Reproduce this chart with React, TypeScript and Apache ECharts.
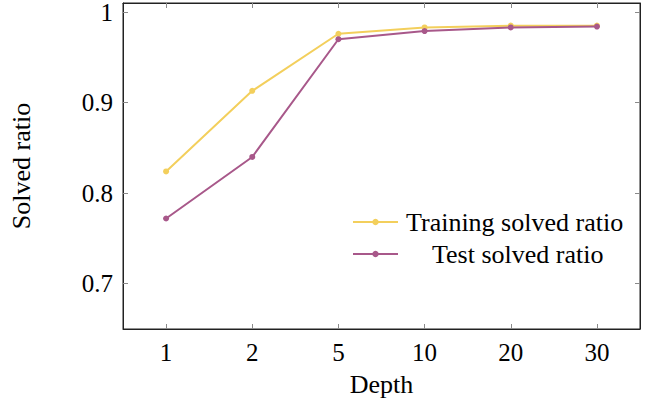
import React, { useEffect, useRef } from "react";
import * as echarts from "echarts";

const depths = ["1", "2", "5", "10", "20", "30"];
const trainingRatio = [0.824, 0.913, 0.976, 0.983, 0.985, 0.985];
const testRatio = [0.772, 0.84, 0.97, 0.979, 0.983, 0.984];
const yTicks = [0.7, 0.8, 0.9, 1];

const FONT = "Liberation Serif";
const YELLOW = "#f3cf5c";
const PURPLE = "#a8588a";
const TICK = "#8a8a8a";

export default function App() {
  const ref = useRef<HTMLDivElement>(null);
  useEffect(() => {
    if (!ref.current) return;
    const chart = echarts.init(ref.current, null, { renderer: "svg" });
    const tickStyle = { show: true, inside: true, length: 5, lineStyle: { color: TICK, width: 1 } };
    chart.setOption({
      animation: false,
      backgroundColor: "#fff",
      textStyle: { fontFamily: FONT },
      grid: {
        left: 123,
        right: 9,
        top: 3,
        bottom: 76,
        show: true,
        borderColor: "#222",
        borderWidth: 1,
        containLabel: false,
        outerBoundsMode: "none",
      },
      xAxis: [
        {
          type: "category",
          data: depths,
          boundaryGap: true,
          position: "bottom",
          name: "Depth",
          nameLocation: "middle",
          nameGap: 42,
          nameTextStyle: { fontFamily: FONT, fontSize: 26, color: "#000" },
          axisLine: { show: true, lineStyle: { color: "#222" } },
          axisTick: { ...tickStyle, alignWithLabel: true },
          axisLabel: { fontFamily: FONT, fontSize: 25, color: "#000", margin: 11 },
          splitLine: { show: false },
        },
        {
          type: "category",
          data: depths,
          boundaryGap: true,
          position: "top",
          axisLine: { show: true, lineStyle: { color: "#222" } },
          axisTick: { ...tickStyle, alignWithLabel: true },
          axisLabel: { show: false },
          splitLine: { show: false },
        },
      ],
      yAxis: [
        {
          type: "value",
          min: 0.65,
          max: 1.01,
          position: "left",
          name: "Solved ratio",
          nameLocation: "middle",
          nameGap: 89,
          nameRotate: 90,
          nameTextStyle: { fontFamily: FONT, fontSize: 26, color: "#000" },
          axisLine: { show: true, lineStyle: { color: "#222" } },
          axisTick: { ...tickStyle, customValues: yTicks },
          axisLabel: {
            fontFamily: FONT,
            fontSize: 25,
            color: "#000",
            margin: 10,
            customValues: yTicks,
            formatter: (v: number) => String(Math.round(v * 10) / 10),
          },
          splitLine: { show: false },
        },
        {
          type: "value",
          min: 0.65,
          max: 1.01,
          position: "right",
          axisLine: { show: true, lineStyle: { color: "#222" } },
          axisTick: { ...tickStyle, customValues: yTicks },
          axisLabel: { show: false },
          splitLine: { show: false },
        },
      ],
      legend: [
        {
          data: ["Training solved ratio"],
          orient: "vertical",
          left: 352,
          top: 209,
          itemWidth: 45,
          itemHeight: 8,
          padding: 0,
          textStyle: { fontFamily: FONT, fontSize: 26, color: "#000", padding: [0, 0, 0, 3] },
        },
        {
          data: ["Test solved ratio"],
          orient: "vertical",
          left: 352,
          top: 241,
          itemWidth: 45,
          itemHeight: 8,
          padding: 0,
          textStyle: { fontFamily: FONT, fontSize: 26, color: "#000", padding: [0, 0, 0, 29] },
        },
      ],
      series: [
        {
          name: "Training solved ratio",
          type: "line",
          data: trainingRatio,
          color: YELLOW,
          symbol: "circle",
          symbolSize: 6,
          lineStyle: { width: 2, color: YELLOW },
          itemStyle: { color: YELLOW },
        },
        {
          name: "Test solved ratio",
          type: "line",
          data: testRatio,
          color: PURPLE,
          symbol: "circle",
          symbolSize: 6,
          lineStyle: { width: 2, color: PURPLE },
          itemStyle: { color: PURPLE },
        },
      ],
    });
    return () => chart.dispose();
  }, []);
  return <div ref={ref} style={{ width: 649, height: 405, position: "absolute", left: 0, top: 0 }} />;
}
